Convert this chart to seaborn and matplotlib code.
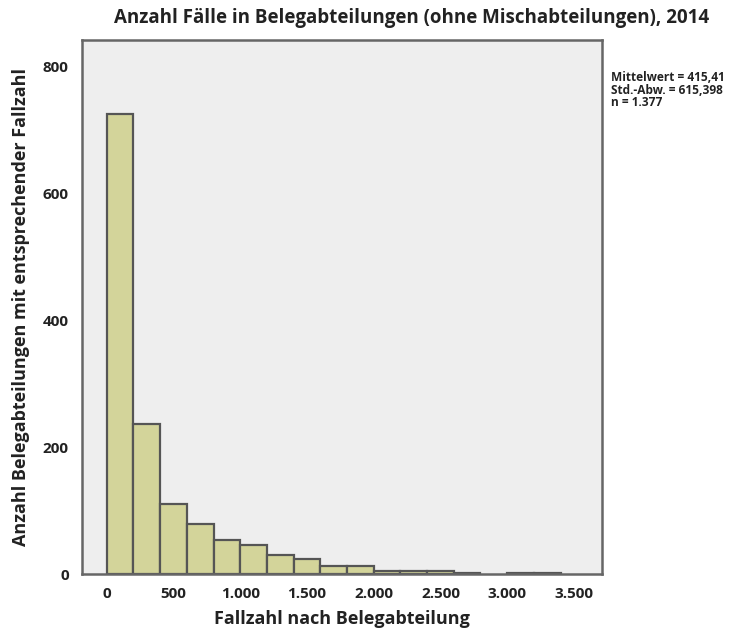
import numpy as np
import pandas as pd
import matplotlib
matplotlib.use("Agg")
import matplotlib.pyplot as plt
import seaborn as sns

# Data
bin_edges = [0, 200, 400, 600, 800, 1000, 1200, 1400, 1600, 1800, 2000,
             2200, 2400, 2600, 2800, 3000, 3200, 3400]
counts = [726, 237, 111, 79, 53, 46, 30, 23, 13, 13, 5, 5, 4, 2, 0, 2, 2]
x_ticks = [0, 500, 1000, 1500, 2000, 2500, 3000, 3500]
x_tick_labels = ["0", "500", "1.000", "1.500", "2.000", "2.500", "3.000", "3.500"]
y_ticks = [0, 200, 400, 600, 800]
title = "Anzahl Fälle in Belegabteilungen (ohne Mischabteilungen), 2014"
xlabel = "Fallzahl nach Belegabteilung"
ylabel = "Anzahl Belegabteilungen mit entsprechender Fallzahl"
stats_text = "Mittelwert = 415,41\nStd.-Abw. = 615,398\nn = 1.377"

centers = [(a + b) / 2 for a, b in zip(bin_edges[:-1], bin_edges[1:])]
df = pd.DataFrame({"center": centers, "count": counts})

sns.set_style("white")
plt.rcParams["font.family"] = ["Open Sans", "DejaVu Sans"]

fig = plt.figure(figsize=(7.51, 6.38), dpi=100)
ax = fig.add_axes([0.109, 0.1003, 0.6926, 0.837])
ax.set_facecolor("#EEEEEE")

sns.histplot(data=df, x="center", weights="count", bins=bin_edges, ax=ax,
             color="#D3D49A", edgecolor="#555555", linewidth=1.6, alpha=1)

for p in ax.patches:
    if p.get_height() == 0:
        p.set_visible(False)

ax.set_xlim(-187, 3711)
ax.set_ylim(0, 842)
ax.set_xticks(x_ticks)
ax.set_xticklabels(x_tick_labels)
ax.set_yticks(y_ticks)

for s in ax.spines.values():
    s.set_color("#666666")
    s.set_linewidth(1.8)

ax.tick_params(axis="both", direction="out", length=7, width=1.5, color="#666666",
               labelsize=11, labelcolor="#222222", pad=2.5)
for lbl in ax.get_xticklabels() + ax.get_yticklabels():
    lbl.set_fontweight("bold")

ax.set_xlabel(xlabel, fontsize=13, fontweight="bold", color="#222222", labelpad=6)
ax.set_ylabel(ylabel, fontsize=13, fontweight="bold", color="#222222", labelpad=9)

fig.text(0.548, 0.972, title, ha="center", va="center", fontsize=13.5,
         fontweight="bold", color="#222222")
fig.text(0.813, 0.888, stats_text, ha="left", va="top", fontsize=8.6,
         fontweight="bold", color="#222222", linespacing=0.92)

fig.savefig("out.png", dpi=100)
